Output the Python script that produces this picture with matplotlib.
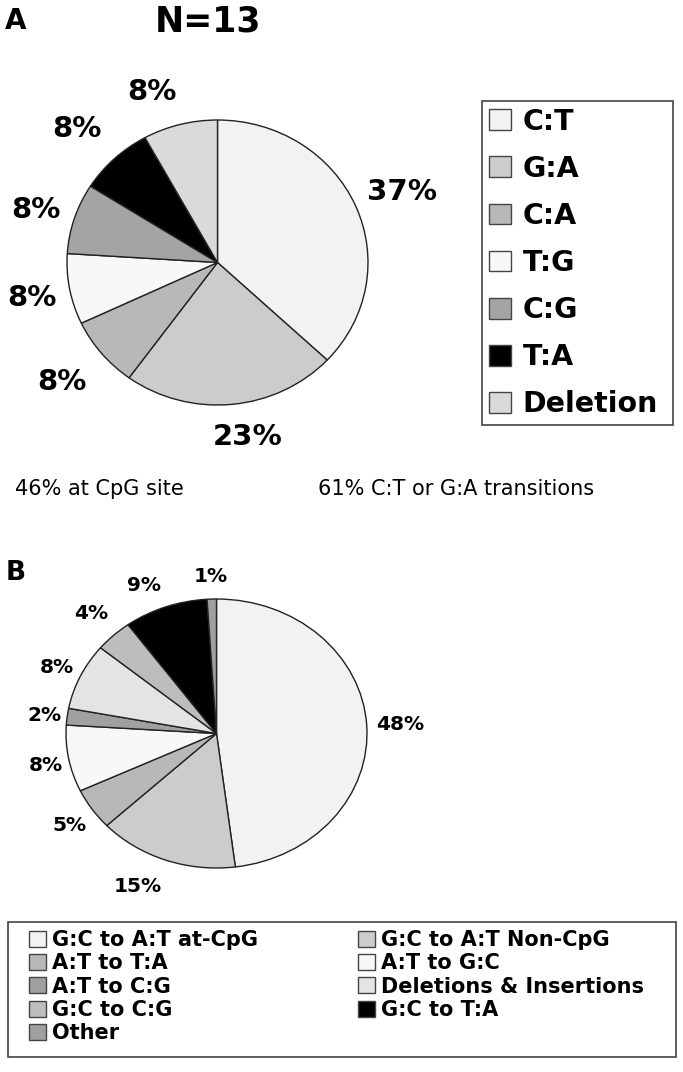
import numpy as np
import matplotlib.pyplot as plt
from matplotlib.patches import Patch, Rectangle

plt.rcParams['font.family'] = ['DejaVu Sans']

# Panel A data (N=13)
labels_a = ['C:T', 'G:A', 'C:A', 'T:G', 'C:G', 'T:A', 'Deletion']
values_a = [37, 23, 8, 8, 8, 8, 8]
colors_a = ['#f2f2f2', '#cccccc', '#b8b8b8', '#f8f8f8', '#a4a4a4', '#000000', '#dadada']
# label placement tweaks (angle offset in deg, radial distance)
lab_off_a = [-1.4, 4, -0.5, 0.6, 1, 1.8, 5.6]
lab_dist_a = [1.32, 1.24, 1.33, 1.26, 1.26, 1.32, 1.27]

# Panel B data
labels_b = ['G:C to A:T at-CpG', 'G:C to A:T Non-CpG', 'A:T to T:A', 'A:T to G:C',
            'A:T to C:G', 'Deletions & Insertions', 'G:C to C:G', 'G:C to T:A', 'Other']
values_b = [48, 15, 5, 8, 2, 8, 4, 9, 1]
colors_b = ['#f2f2f2', '#cccccc', '#b8b8b8', '#f8f8f8', '#a0a0a0', '#e4e4e4',
            '#bdbdbd', '#000000', '#a0a0a0']
legend_order_b = ['G:C to A:T at-CpG', 'A:T to T:A', 'A:T to C:G', 'G:C to C:G', 'Other',
                  'G:C to A:T Non-CpG', 'A:T to G:C', 'Deletions & Insertions', 'G:C to T:A']
lab_off_b = [-0.6, -4.9, 0.8, 0.9, 0.7, 0.5, 0, 3.8, 0.2]
lab_dist_b = [1.22, 1.25, 1.19, 1.16, 1.15, 1.17, 1.22, 1.2, 1.17]

W, H = 683, 1072
fig = plt.figure(figsize=(W / 100, H / 100), dpi=100)


def px_axes(x0, y0, x1, y1):
    # axes from pixel box (top-left origin)
    return fig.add_axes([x0 / W, 1 - y1 / H, (x1 - x0) / W, (y1 - y0) / H])


def draw_pie(ax, values, colors, offsets, dists, fontsize):
    wedges, _ = ax.pie(values, colors=colors, startangle=90, counterclock=False,
                       radius=1, wedgeprops=dict(edgecolor='#222222', linewidth=1.0))
    ax.set_aspect('auto')
    ax.set_xlim(-1, 1)
    ax.set_ylim(-1, 1)
    ax.axis('off')
    for w, v, off, d in zip(wedges, values, offsets, dists):
        mid = np.deg2rad((w.theta1 + w.theta2) / 2 + off)
        ax.text(d * np.cos(mid), d * np.sin(mid), f'{v}%',
                ha='center', va='center', fontsize=fontsize, fontweight='bold',
                clip_on=False)
    return wedges


# Panel A
ax_a = px_axes(67, 120, 368, 405)
draw_pie(ax_a, values_a, colors_a, lab_off_a, lab_dist_a, 21)

handles_a = [Patch(facecolor=c, edgecolor='#444444', linewidth=1.0) for c in colors_a]
leg_a = fig.legend(handles_a, labels_a, loc='upper left',
                   bbox_to_anchor=(482 / W, 1 - 101 / H, 191 / W, 0.0001), mode='expand',
                   prop=dict(size=20.5, weight='bold'), handlelength=0.78, handleheight=0.75,
                   handletextpad=0.4, labelspacing=0.67, borderpad=0.24, borderaxespad=0,
                   fancybox=False, framealpha=1)
leg_a.get_frame().set_edgecolor('#444444')
leg_a.get_frame().set_linewidth(1.2)

fig.text(5 / W, 1 - 21 / H, 'A', fontsize=20, fontweight='bold', va='center')
fig.text(208 / W, 1 - 22 / H, 'N=13', fontsize=25, fontweight='bold', va='center', ha='center')
fig.text(15 / W, 1 - 489 / H, '46% at CpG site', fontsize=15, va='center')
fig.text(318 / W, 1 - 489 / H, '61% C:T or G:A transitions', fontsize=15, va='center')

# Panel B
fig.text(6 / W, 1 - 573 / H, 'B', fontsize=19, fontweight='bold', va='center')
ax_b = px_axes(66, 599, 367, 868)
draw_pie(ax_b, values_b, colors_b, lab_off_b, lab_dist_b, 14.5)

color_map_b = dict(zip(labels_b, colors_b))
handles_b = [Patch(facecolor=color_map_b[l], edgecolor='#444444', linewidth=1.0)
             for l in legend_order_b]
fig.add_artist(Rectangle((8 / W, 1 - 1057 / H), 668 / W, 135 / H, transform=fig.transFigure,
                         facecolor='white', edgecolor='#444444', linewidth=1.2))
leg_b = fig.legend(handles_b, legend_order_b, loc='upper left', ncol=2,
                   bbox_to_anchor=(29 / W, 1 - 930 / H), frameon=False,
                   prop=dict(size=15, weight='bold'), handlelength=0.8, handleheight=0.8,
                   handletextpad=0.3, labelspacing=0.16, borderpad=0, borderaxespad=0,
                   columnspacing=4.8)

fig.savefig('out.png', dpi=100)
